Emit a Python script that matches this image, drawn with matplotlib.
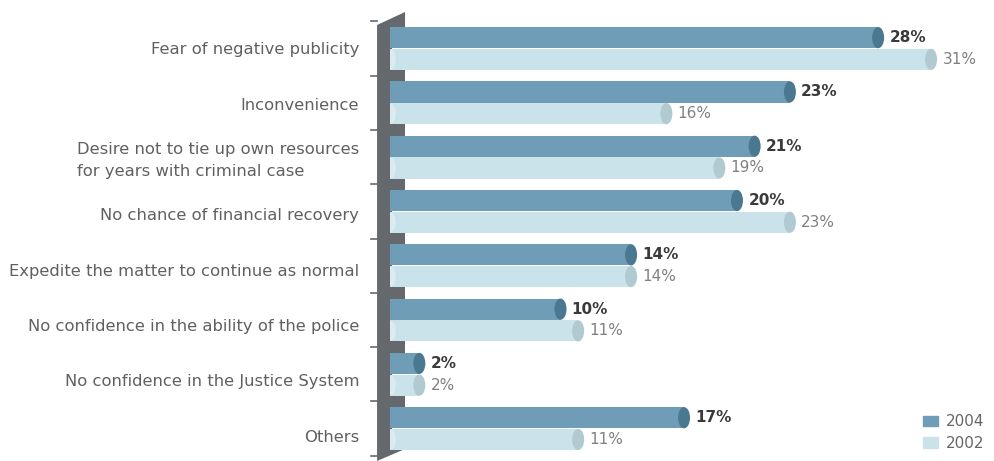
import matplotlib.pyplot as plt
from matplotlib.patches import Ellipse, Polygon, Rectangle, Patch

categories = [
    'Fear of negative publicity',
    'Inconvenience',
    'Desire not to tie up own resources\nfor years with criminal case',
    'No chance of financial recovery',
    'Expedite the matter to continue as normal',
    'No confidence in the ability of the police',
    'No confidence in the Justice System',
    'Others',
]
vals_2004 = [28, 23, 21, 20, 14, 10, 2, 17]
vals_2002 = [31, 16, 19, 23, 14, 11, 2, 11]

C04, CAP04 = '#6f9db7', '#4b7891'
C02, CAP02 = '#cae2ea', '#b1c9d0'
SPINE = '#65686d'
TXT = '#606060'

plt.rcParams['font.family'] = ['DejaVu Sans']

fig = plt.figure(figsize=(9.94, 4.61), dpi=100)
ax = fig.add_axes([0.3924, 0.0, 0.6036, 1.0])
ax.set_xlim(0, 34)
ax.set_ylim(7.597, -0.893)
ax.axis('off')

bh = 0.39      # bar thickness
off = 0.2      # offset of each series from group centre
cap = 0.68     # width of the rounded end cap (data units)

# pixel row -> data y (rows are 54.3 px apart, first centre at 48.5 px)
def py(p):
    return (p - 48.5) / 54.3

# ---- left "3D" spine ----
xl, xr, xb = -0.736, 0.11, 0.85
spine = Polygon([(xl, py(25)), (xb, py(12)), (xb, py(27)), (xr, py(27)),
                 (xr, py(449)), (xb, py(449)), (xl, py(461))],
                closed=True, fc=SPINE, ec='none', clip_on=False, zorder=1)
ax.add_patch(spine)
for i in range(len(categories) - 1):
    ax.add_patch(Rectangle((0, i + off + bh / 2), xb, 1 - 2 * (off + bh / 2),
                           fc=SPINE, ec='none', zorder=1))
for i in range(len(categories) + 1):
    ax.plot([xl - 0.35, xl], [i - 0.5, i - 0.5], color=SPINE, lw=1.2,
            clip_on=False, zorder=1)

# ---- bars with rounded ends ----
for i, (a, b) in enumerate(zip(vals_2004, vals_2002)):
    for v, y, c, cc, bold in [(a, i - off, C04, CAP04, True),
                              (b, i + off, C02, CAP02, False)]:
        ax.barh(y, v - cap / 2, height=bh, color=c, zorder=2)
        ax.add_patch(Ellipse((v - cap / 2, y), cap, bh, fc=cc, ec='none', zorder=3))
        ax.add_patch(Ellipse((0.05, y), 0.55, bh * 0.95,
                             fc=c if bold else '#dcebf0', ec='none', zorder=3))
        ax.text(v + 0.3, y, f'{v}%', va='center', ha='left', fontsize=11,
                color='#3a3a3a' if bold else '#808080',
                fontweight='bold' if bold else 'normal')

# ---- category labels ----
for i, lab in enumerate(categories):
    ax.text(-1.75, py(50 + 55.3 * i), lab, ha='right', va='center',
            multialignment='left', fontsize=11.8, color=TXT, linespacing=1.55)

handles = [Patch(color=C04, label='2004'), Patch(color=C02, label='2002')]
fig.legend(handles=handles, loc='lower right', bbox_to_anchor=(0.99, 0.022),
           frameon=False, handlelength=1.0, handleheight=0.65,
           handletextpad=0.5, labelspacing=0.45, borderpad=0, borderaxespad=0,
           fontsize=11, labelcolor='#666666')

fig.savefig('out.png', dpi=100)
